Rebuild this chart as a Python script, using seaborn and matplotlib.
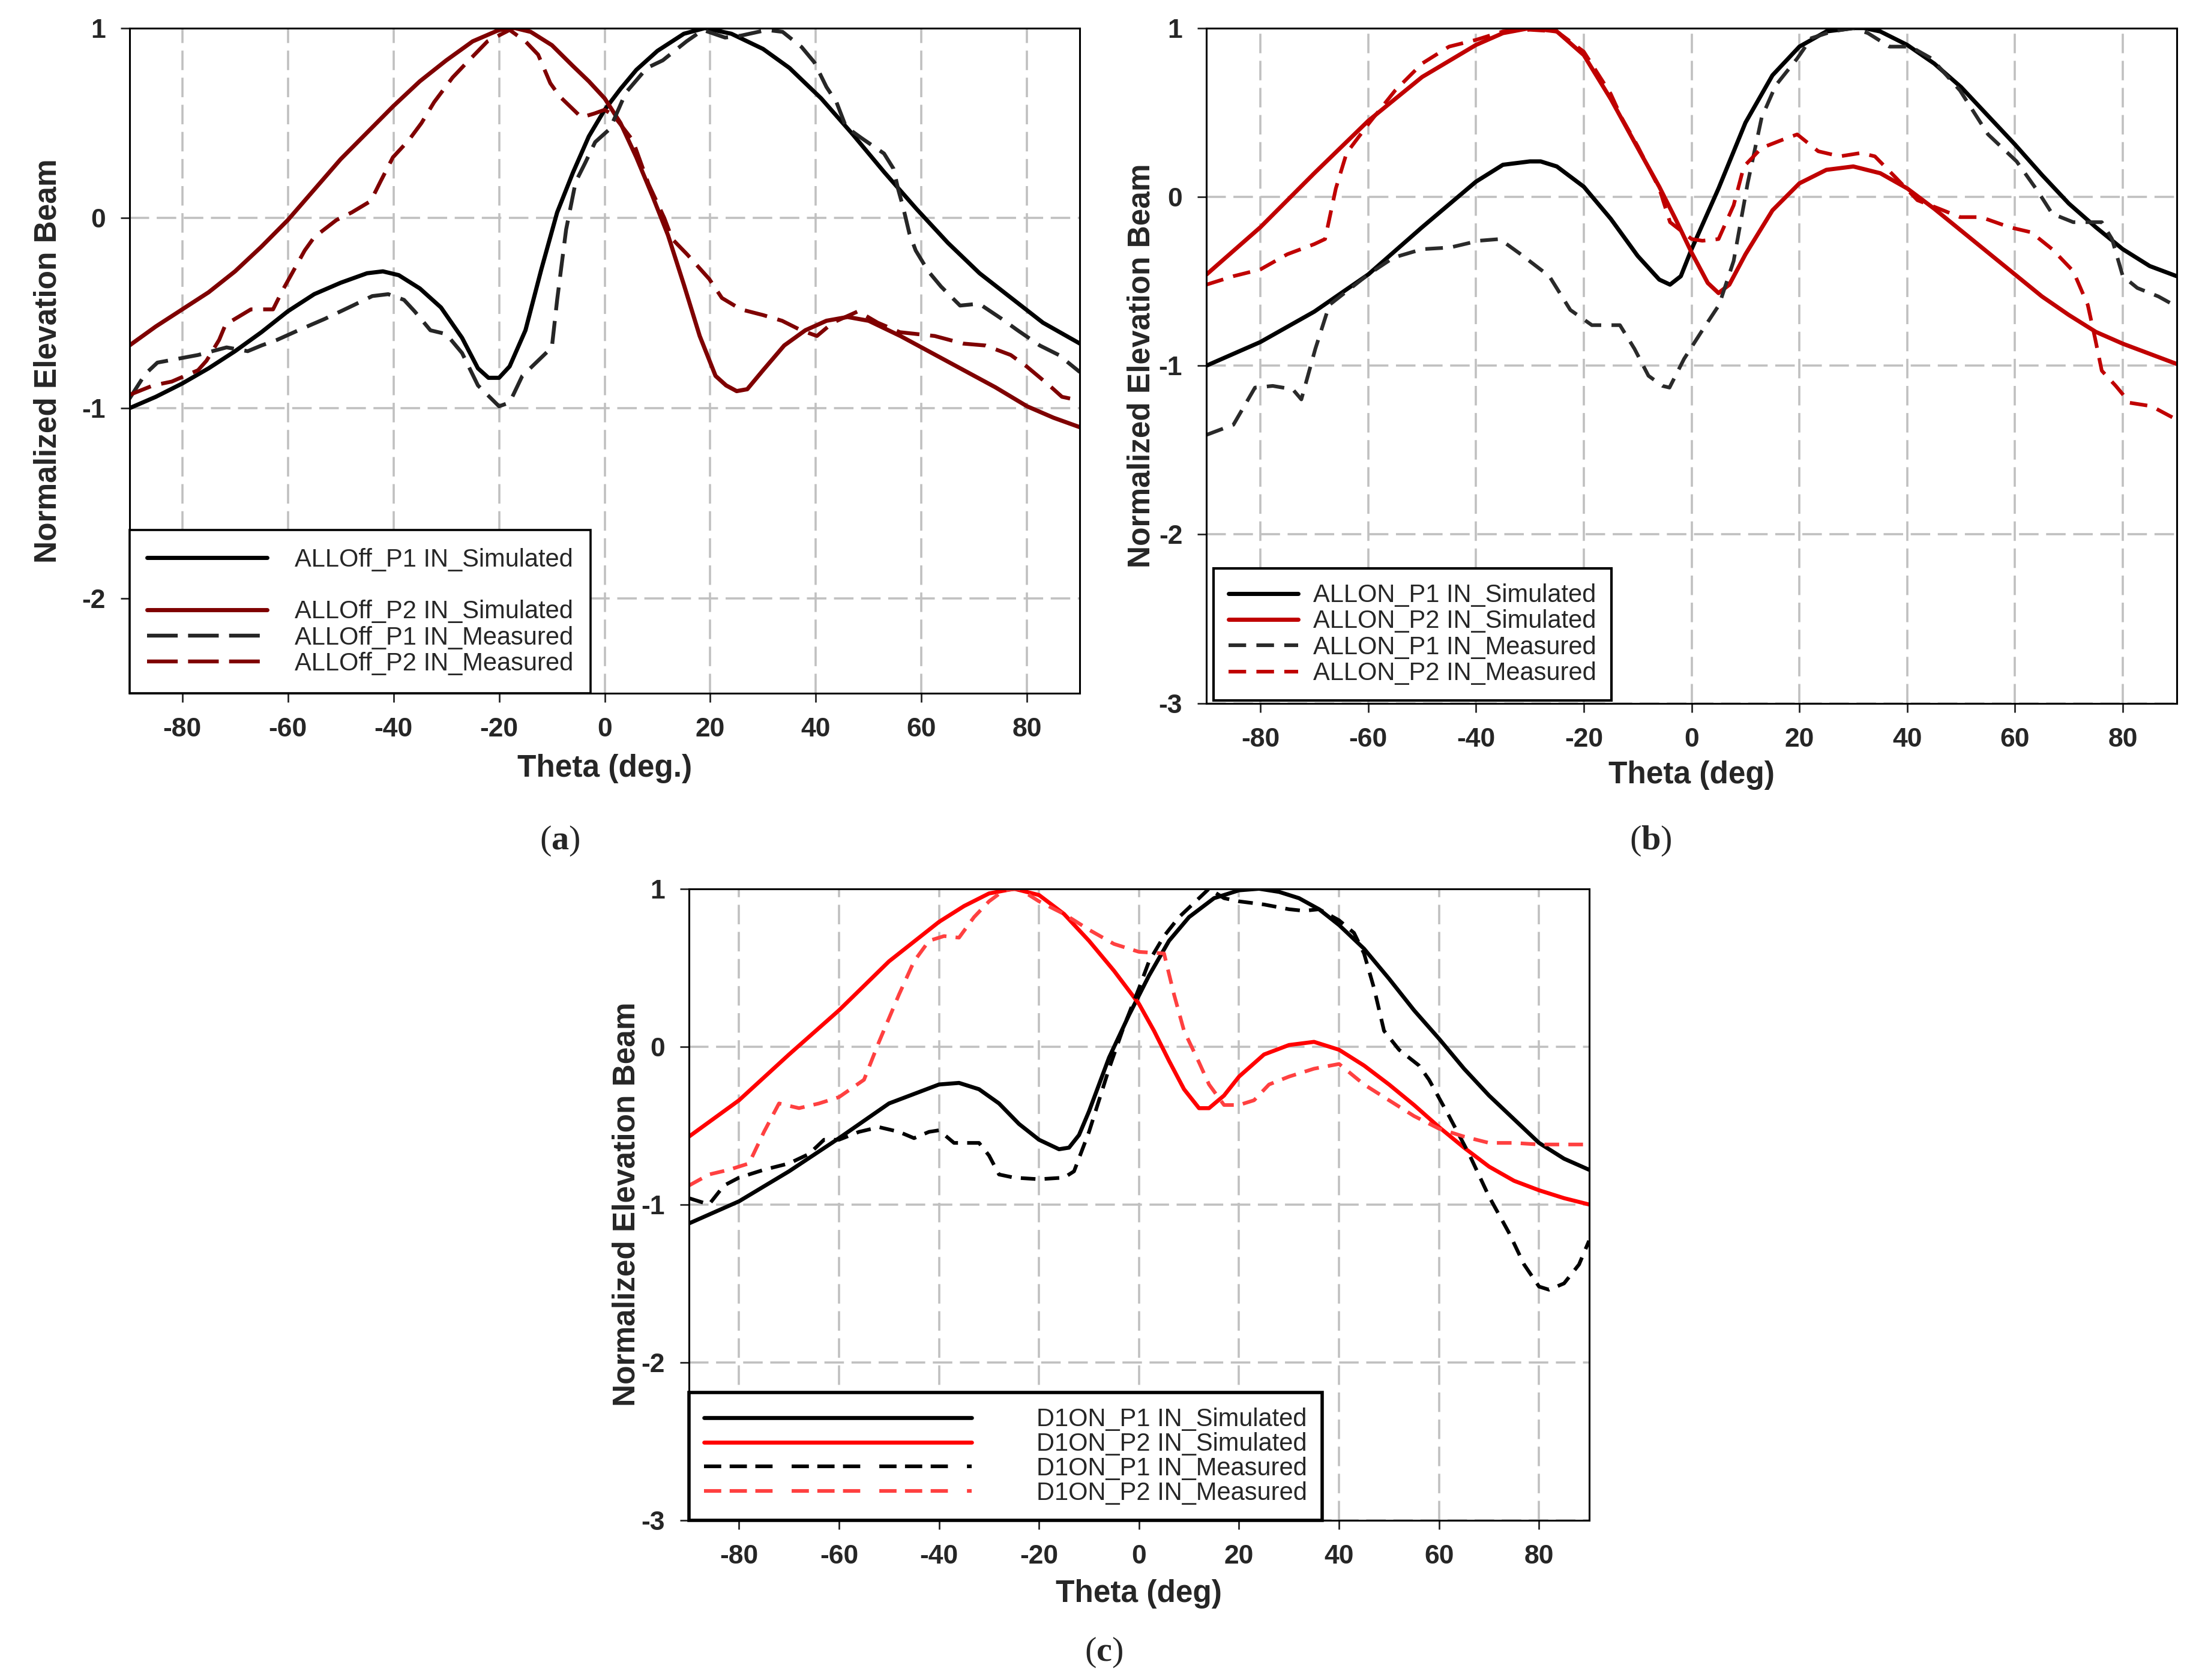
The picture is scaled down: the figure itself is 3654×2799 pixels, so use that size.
import matplotlib
matplotlib.use("Agg")
import matplotlib.pyplot as plt
from matplotlib.lines import Line2D
import seaborn as sns

# ---- values (theta in deg, normalized beam) ----
# panel (a) ALLOff
a_p1_sim_x = [-90, -85, -80, -75, -70, -65, -60, -55, -50, -45, -42, -39, -35, -31, -27, -24, -22, -20,
              -18, -15, -12, -9, -6, -3, 0, 3, 6, 10, 15, 19, 24, 30, 35, 41, 47, 53, 59, 65, 71, 77, 83, 90]
a_p1_sim_y = [-1.00, -0.94, -0.87, -0.79, -0.70, -0.60, -0.49, -0.40, -0.34, -0.29, -0.28, -0.30, -0.37,
              -0.47, -0.63, -0.79, -0.84, -0.84, -0.78, -0.59, -0.27, 0.03, 0.24, 0.43, 0.57, 0.68, 0.78,
              0.88, 0.97, 1.00, 0.97, 0.89, 0.79, 0.63, 0.44, 0.24, 0.05, -0.13, -0.29, -0.42, -0.55, -0.66]
a_p2_sim_x = [-90, -85, -80, -75, -70, -65, -60, -55, -50, -45, -40, -35, -30, -25, -20, -17, -14, -10, -6,
              -3, 0, 3, 6, 9, 12, 15, 18, 21, 23, 25, 27, 30, 34, 38, 42, 46, 50, 56, 62, 68, 74, 80, 85, 90]
a_p2_sim_y = [-0.67, -0.57, -0.48, -0.39, -0.28, -0.15, -0.01, 0.15, 0.31, 0.45, 0.59, 0.72, 0.83, 0.93,
              0.99, 1.00, 0.98, 0.91, 0.80, 0.72, 0.63, 0.50, 0.32, 0.12, -0.09, -0.35, -0.62, -0.83, -0.88,
              -0.91, -0.90, -0.80, -0.67, -0.59, -0.54, -0.52, -0.54, -0.62, -0.71, -0.80, -0.89, -0.99,
              -1.05, -1.10]
a_p1_mea_x = [-90, -87, -84.7, -77, -71.6, -67.6, -65, -62, -58, -53, -47.7, -44, -41, -38, -36, -33, -30,
              -27, -24, -20, -18, -15.6, -10, -9, -7.3, -5.5, -3.7, -1.8, 1, 4, 8, 11, 15.5, 18.6, 22.8,
              25.8, 30.7, 33.7, 37.3, 39.7, 42, 43.9, 45.7, 48.7, 52.9, 54.7, 55.6, 56.5, 57.7, 58.9, 61.3,
              63.7, 67.3, 70.9, 75.2, 78.2, 82.4, 86, 90]
a_p1_mea_y = [-0.95, -0.82, -0.76, -0.72, -0.68, -0.70, -0.67, -0.64, -0.59, -0.53, -0.46, -0.41, -0.40,
              -0.43, -0.49, -0.59, -0.61, -0.71, -0.88, -0.99, -0.97, -0.83, -0.68, -0.43, -0.06, 0.19,
              0.29, 0.40, 0.47, 0.66, 0.79, 0.83, 0.93, 0.99, 0.95, 0.96, 0.99, 0.98, 0.90, 0.82, 0.69,
              0.61, 0.48, 0.42, 0.34, 0.26, 0.15, 0.06, -0.08, -0.17, -0.28, -0.36, -0.46, -0.45, -0.53,
              -0.59, -0.67, -0.72, -0.81]
a_p2_mea_x = [-90, -85.5, -82, -77, -75.4, -73, -71.8, -67, -62.8, -61, -59.2, -56.8, -55, -50.8, -47.9,
              -44.3, -42.5, -40.1, -37.1, -34.7, -32.3, -28.8, -26.4, -22.2, -18, -15, -12.6, -10.3, -8.5,
              -4.4, -2, 0, 1.7, 5.3, 8.3, 11.3, 12.8, 15.6, 19.8, 22.2, 25.8, 30, 33.6, 37.2, 40.2, 43.2,
              48, 51.7, 55.9, 62.5, 67.9, 72.1, 76.9, 79.9, 84.2, 86.6, 90]
a_p2_mea_y = [-0.93, -0.88, -0.86, -0.80, -0.75, -0.64, -0.56, -0.48, -0.48, -0.38, -0.29, -0.17, -0.10,
              -0.01, 0.03, 0.09, 0.19, 0.32, 0.41, 0.50, 0.61, 0.74, 0.81, 0.93, 0.99, 0.93, 0.86, 0.71,
              0.64, 0.53, 0.55, 0.57, 0.54, 0.41, 0.18, 0.00, -0.11, -0.19, -0.32, -0.42, -0.48, -0.51,
              -0.54, -0.59, -0.62, -0.55, -0.49, -0.55, -0.60, -0.62, -0.66, -0.67, -0.72, -0.78, -0.88,
              -0.94, -0.96]

# panel (b) ALLON
b_p1_sim_x = [-90, -80, -70, -60, -50, -40, -35, -30, -28, -25, -20, -15, -10, -6, -4, -2, 0, 5, 10, 15,
              20, 25, 30, 32, 35, 40, 45, 50, 55, 60, 65, 70, 75, 80, 85, 90]
b_p1_sim_y = [-1.00, -0.86, -0.68, -0.46, -0.18, 0.09, 0.19, 0.21, 0.21, 0.18, 0.06, -0.13, -0.35, -0.49,
              -0.52, -0.47, -0.31, 0.05, 0.44, 0.72, 0.89, 0.98, 1.00, 1.00, 0.98, 0.90, 0.79, 0.65, 0.48,
              0.31, 0.13, -0.04, -0.18, -0.31, -0.41, -0.47]
b_p2_sim_x = [-90, -80, -70, -60, -50, -40, -35, -30, -25, -20, -15, -10, -6, -3, 0, 3, 5, 7, 10, 15, 20,
              25, 30, 35, 40, 45, 50, 55, 60, 65, 70, 75, 80, 85, 90]
b_p2_sim_y = [-0.46, -0.18, 0.14, 0.45, 0.71, 0.90, 0.97, 1.00, 0.98, 0.84, 0.58, 0.29, 0.06, -0.13, -0.33,
              -0.51, -0.57, -0.52, -0.34, -0.08, 0.08, 0.16, 0.18, 0.14, 0.05, -0.07, -0.20, -0.33, -0.46,
              -0.59, -0.70, -0.80, -0.87, -0.93, -0.99]
b_p1_mea_x = [-90, -85, -81, -77.7, -74, -72.4, -69.8, -67.2, -63.2, -60, -55.3, -50, -44.8, -39.5, -35.6,
              -31.7, -26.4, -22.5, -18.5, -13.3, -10.6, -8, -5.4, -4.1, -1.4, 1.8, 5.1, 7.8, 10.4, 13,
              15.6, 19.6, 22.2, 26.1, 30, 32.7, 36.7, 40.6, 44.5, 49.8, 55, 60.3, 64.3, 66.9, 70.8, 76.1,
              78, 80, 82.7, 86.6, 90]
b_p1_mea_y = [-1.41, -1.35, -1.13, -1.12, -1.14, -1.20, -0.90, -0.64, -0.54, -0.46, -0.36, -0.31, -0.30,
              -0.26, -0.25, -0.34, -0.47, -0.67, -0.76, -0.76, -0.90, -1.06, -1.12, -1.13, -0.96, -0.80,
              -0.64, -0.38, 0.08, 0.47, 0.66, 0.82, 0.94, 0.98, 1.00, 0.97, 0.89, 0.89, 0.82, 0.63, 0.37,
              0.21, 0.03, -0.10, -0.15, -0.15, -0.25, -0.47, -0.54, -0.59, -0.65]
b_p2_mea_x = [-90, -85, -80, -75, -70, -68, -66, -64, -60, -55, -50, -45, -40, -35, -30, -25, -20, -15, -13,
              -10, -6, -4, -2, 0, 2, 5, 7.8, 9.7, 13, 17, 19.6, 23.5, 27.5, 31.4, 34, 38, 41.9, 45.9, 49.8,
              53.7, 59, 63, 66.9, 70.8, 73.5, 74.8, 76.1, 78.7, 81.3, 85.3, 90]
b_p2_mea_y = [-0.52, -0.47, -0.43, -0.34, -0.28, -0.25, 0.05, 0.26, 0.43, 0.63, 0.79, 0.89, 0.93, 0.98,
              0.99, 0.98, 0.86, 0.61, 0.47, 0.30, 0.05, -0.15, -0.20, -0.25, -0.26, -0.25, -0.05, 0.18,
              0.29, 0.34, 0.37, 0.27, 0.24, 0.26, 0.24, 0.11, -0.02, -0.07, -0.12, -0.12, -0.18, -0.21,
              -0.31, -0.44, -0.64, -0.83, -1.03, -1.12, -1.22, -1.24, -1.32]

# panel (c) D1ON
c_p1_sim_x = [-90, -80, -70, -60, -50, -40, -36, -32, -28, -24, -20, -16, -14, -12, -10, -6, -2, 2, 6, 10,
              15, 20, 24, 28, 32, 36, 40, 45, 50, 55, 60, 65, 70, 75, 80, 85, 90]
c_p1_sim_y = [-1.12, -0.98, -0.79, -0.58, -0.36, -0.24, -0.23, -0.27, -0.36, -0.49, -0.59, -0.65, -0.64,
              -0.56, -0.41, -0.07, 0.20, 0.45, 0.67, 0.82, 0.94, 0.99, 1.00, 0.98, 0.94, 0.87, 0.77, 0.62,
              0.43, 0.23, 0.05, -0.14, -0.31, -0.46, -0.61, -0.71, -0.78]
c_p2_sim_x = [-90, -80, -70, -60, -50, -40, -35, -30, -25, -20, -15, -10, -5, 0, 3, 6, 9, 12, 14, 17, 20,
              25, 30, 35, 40, 45, 50, 55, 60, 65, 70, 75, 80, 85, 90]
c_p2_sim_y = [-0.57, -0.34, -0.05, 0.23, 0.54, 0.79, 0.89, 0.97, 1.00, 0.96, 0.84, 0.67, 0.48, 0.27, 0.10,
              -0.09, -0.27, -0.39, -0.39, -0.31, -0.19, -0.05, 0.01, 0.03, -0.02, -0.12, -0.24, -0.37,
              -0.51, -0.64, -0.76, -0.85, -0.91, -0.96, -1.00]
c_p1_mea_x = [-90, -88, -86, -83, -80, -75, -70, -66, -63, -60, -56, -52, -48, -45, -42, -40, -37, -32, -30,
              -28, -25, -20, -15, -13, -10, -6, -3, 0, 2, 5, 8, 11, 14, 17, 20, 25, 30, 33, 36, 40, 43, 45,
              47, 49, 52, 56, 58, 62, 66, 70, 74, 77, 80, 82, 85, 88, 90]
c_p1_mea_y = [-0.96, -0.98, -1.00, -0.88, -0.83, -0.78, -0.74, -0.68, -0.59, -0.59, -0.54, -0.51, -0.54,
              -0.58, -0.54, -0.53, -0.61, -0.61, -0.69, -0.81, -0.83, -0.84, -0.83, -0.79, -0.54, -0.14,
              0.13, 0.37, 0.54, 0.70, 0.82, 0.91, 1.00, 0.94, 0.92, 0.90, 0.87, 0.86, 0.87, 0.80, 0.72,
              0.59, 0.37, 0.10, -0.02, -0.12, -0.21, -0.44, -0.68, -0.95, -1.18, -1.38, -1.52, -1.54,
              -1.50, -1.38, -1.23]
c_p2_mea_x = [-90, -86, -82, -78, -75, -72, -68, -64, -60, -55, -52, -48, -45, -42, -39, -36, -33, -30, -27,
              -24, -20, -15, -10, -5, 0, 5, 7, 9, 12, 14, 17, 20, 23, 26, 30, 35, 40, 45, 50, 55, 60, 65,
              70, 75, 80, 85, 90]
c_p2_mea_y = [-0.88, -0.81, -0.78, -0.74, -0.54, -0.36, -0.39, -0.36, -0.32, -0.21, 0.03, 0.33, 0.54, 0.67,
              0.70, 0.69, 0.82, 0.92, 0.99, 1.00, 0.92, 0.84, 0.74, 0.65, 0.60, 0.59, 0.33, 0.10, -0.10,
              -0.24, -0.37, -0.37, -0.34, -0.24, -0.19, -0.14, -0.11, -0.24, -0.34, -0.44, -0.52, -0.57,
              -0.61, -0.61, -0.62, -0.62, -0.62]

a_labels = ["ALLOff_P1 IN_Simulated", "ALLOff_P2 IN_Simulated", "ALLOff_P1 IN_Measured", "ALLOff_P2 IN_Measured"]
b_labels = ["ALLON_P1 IN_Simulated", "ALLON_P2 IN_Simulated", "ALLON_P1 IN_Measured", "ALLON_P2 IN_Measured"]
c_labels = ["D1ON_P1 IN_Simulated", "D1ON_P2 IN_Simulated", "D1ON_P1 IN_Measured", "D1ON_P2 IN_Measured"]
x_ticks = [-80, -60, -40, -20, 0, 20, 40, 60, 80]

sns.set_style("white")
plt.rcParams["font.family"] = ["Liberation Sans", "DejaVu Sans"]
plt.rcParams["mathtext.fontset"] = "custom"
plt.rcParams["mathtext.rm"] = "Liberation Serif"
plt.rcParams["mathtext.bf"] = "Liberation Serif:bold"

fig = plt.figure(figsize=(18.275, 13.995), dpi=200)
ax_a = fig.add_axes([0.0590, 0.5873, 0.4333, 0.3960])
ax_b = fig.add_axes([0.5500, 0.5814, 0.4423, 0.4019])
ax_c = fig.add_axes([0.3141, 0.0951, 0.4103, 0.3759])


def draw_panel(ax, series, ylim, yticks, xlabel, ylab_x, xlab_y):
    for xs, ys, color, ls, lw, label in series:
        sns.lineplot(x=xs, y=ys, ax=ax, color=color, linestyle=ls, linewidth=lw,
                     label=label, estimator=None, errorbar=None, sort=False)
    ax.set_xlim(-90, 90)
    ax.set_ylim(*ylim)
    ax.set_xticks(x_ticks)
    ax.set_yticks(yticks)
    ax.set_xticklabels([str(t) for t in x_ticks], fontsize=16, fontweight="bold")
    ax.set_yticklabels([str(t) for t in yticks], fontsize=16, fontweight="bold")
    ax.tick_params(axis="both", direction="out", length=5.4, width=1.0, pad=9,
                   bottom=True, left=True, top=False, right=False)
    ax.grid(True, color="#C0C0C0", linestyle=(0, (9, 3.5)), linewidth=1.3)
    ax.set_axisbelow(True)
    for sp in ax.spines.values():
        sp.set_color("black")
        sp.set_linewidth(1.1)
    ax.set_xlabel(xlabel, fontsize=18.5, fontweight="bold")
    ax.set_ylabel("Normalized Elevation Beam", fontsize=18.5, fontweight="bold")
    ax.yaxis.set_label_coords(ylab_x, 0.5)
    ax.xaxis.set_label_coords(0.5, xlab_y)


dash_a = (0, (6, 2.8))
dash_b = (0, (4.8, 2.8))
dash_c = (0, (4, 2.5))

draw_panel(ax_a, [
    (a_p1_sim_x, a_p1_sim_y, "black", "-", 2.5, a_labels[0]),
    (a_p2_sim_x, a_p2_sim_y, "#7F0000", "-", 2.5, a_labels[1]),
    (a_p1_mea_x, a_p1_mea_y, "#262626", dash_a, 2.3, a_labels[2]),
    (a_p2_mea_x, a_p2_mea_y, "#7F0000", dash_a, 2.3, a_labels[3]),
], (-2.5, 1), [-2, -1, 0, 1], "Theta (deg.)", -0.070, -0.091)

draw_panel(ax_b, [
    (b_p1_sim_x, b_p1_sim_y, "black", "-", 2.5, b_labels[0]),
    (b_p2_sim_x, b_p2_sim_y, "#C00000", "-", 2.5, b_labels[1]),
    (b_p1_mea_x, b_p1_mea_y, "#2A2A2A", dash_b, 2.2, b_labels[2]),
    (b_p2_mea_x, b_p2_mea_y, "#C00000", dash_b, 2.2, b_labels[3]),
], (-3, 1), [-3, -2, -1, 0, 1], "Theta (deg)", -0.052, -0.085)

draw_panel(ax_c, [
    (c_p1_sim_x, c_p1_sim_y, "black", "-", 2.4, c_labels[0]),
    (c_p2_sim_x, c_p2_sim_y, "#FF0000", "-", 2.4, c_labels[1]),
    (c_p1_mea_x, c_p1_mea_y, "black", dash_c, 2.2, c_labels[2]),
    (c_p2_mea_x, c_p2_mea_y, "#FF4040", dash_c, 2.2, c_labels[3]),
], (-3, 1), [-3, -2, -1, 0, 1], "Theta (deg)", -0.053, -0.093)

leg_style = dict(loc="lower left", frameon=True, fancybox=False, framealpha=1.0,
                 edgecolor="black", fontsize=15, borderaxespad=0)

# (a) has an empty row after the first entry
h, l = ax_a.get_legend_handles_labels()
blank = Line2D([], [], linestyle="none")
leg_a = ax_a.legend([h[0], blank, h[1], h[2], h[3]], [l[0], " ", l[1], l[2], l[3]],
                    bbox_to_anchor=(0.0, 0.0), handlelength=4.8, handletextpad=1.1,
                    borderpad=0.7, labelspacing=0.08, **leg_style)
leg_a.get_frame().set_linewidth(1.3)
for line in leg_a.get_lines()[3:]:
    line.set_linestyle((0, (8, 2.7)))

h, l = ax_b.get_legend_handles_labels()
leg_b = ax_b.legend(h, l, bbox_to_anchor=(0.007, 0.004), handlelength=2.8, handletextpad=0.6,
                    borderpad=0.6, labelspacing=0.08, **leg_style)
leg_b.get_frame().set_linewidth(1.5)

h, l = ax_c.get_legend_handles_labels()
leg_c = ax_c.legend(h, l, bbox_to_anchor=(0.0, 0.0), handlelength=10.7, handletextpad=2.6,
                    borderpad=0.6, labelspacing=0.02, **leg_style)
leg_c.get_frame().set_linewidth(2.0)
for line in leg_c.get_lines()[2:]:
    line.set_linestyle((0, (4.7, 2.3, 4.7, 2.3, 4.7, 5.2)))

for txt, xp, yp in [(r"($\mathbf{a}$)", 0.2551, 0.4994), (r"($\mathbf{b}$)", 0.7526, 0.4994),
                    (r"($\mathbf{c}$)", 0.5032, 0.0164)]:
    fig.text(xp, yp, txt, fontsize=21, family="Liberation Serif", ha="center", va="center")

fig.savefig("out.png", dpi=200)
